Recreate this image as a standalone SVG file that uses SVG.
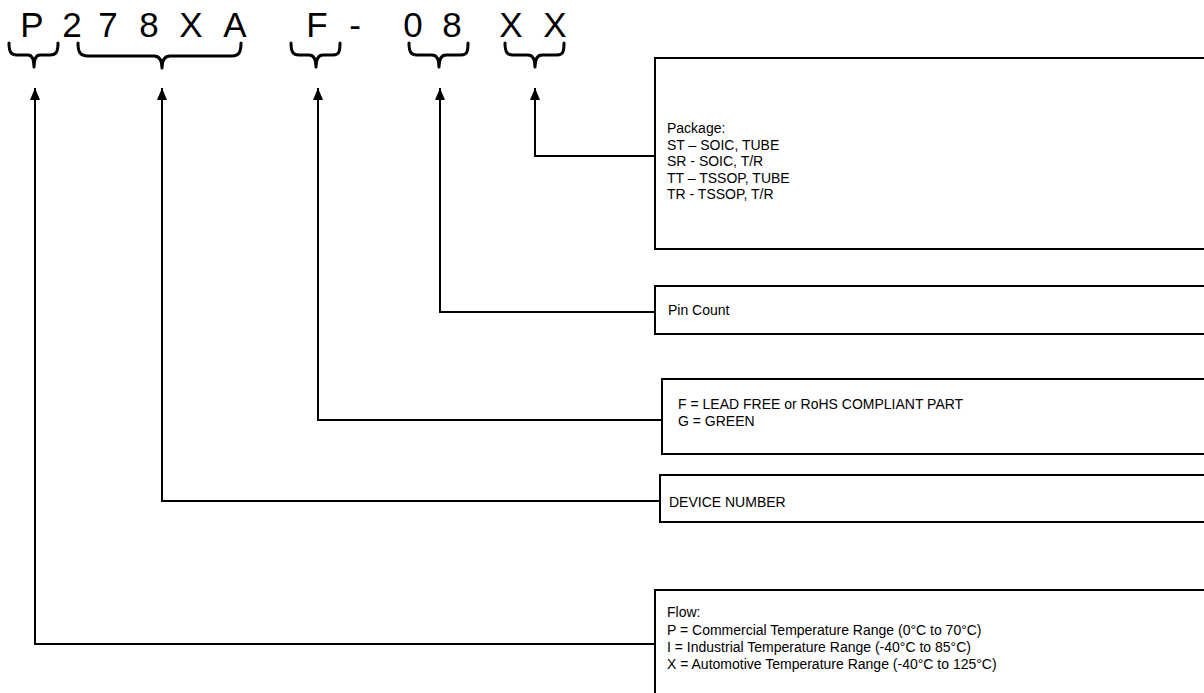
<svg xmlns="http://www.w3.org/2000/svg" width="1204" height="693" viewBox="0 0 1204 693">
<style>
.code{font-family:"Liberation Sans",Arial,sans-serif;font-size:35px;fill:#000;text-anchor:middle}
.brace{fill:none;stroke:#000;stroke-width:3;stroke-linecap:round;stroke-linejoin:round}
.box{fill:#fff;stroke:#000;stroke-width:2}
.lbl{font-family:"Liberation Sans",Arial,sans-serif;font-size:14px;fill:#000}
.conn{fill:none;stroke:#000;stroke-width:2}
</style>
<defs>
<marker id="arr" markerUnits="userSpaceOnUse" markerWidth="12" markerHeight="10" refX="12" refY="5" orient="auto">
<path d="M0,0 L12,5 L0,10 z" fill="#000"/>
</marker>
</defs>
<rect width="1204" height="693" fill="#fff"/>
<g id="partcode">
<text class="code" x="32" y="37">P</text>
<text class="code" x="72" y="37">2</text>
<text class="code" x="108" y="37">7</text>
<text class="code" x="149" y="37">8</text>
<text class="code" x="191" y="37">X</text>
<text class="code" x="235" y="37">A</text>
<text class="code" x="317" y="37">F</text>
<text class="code" x="355" y="37">-</text>
<text class="code" x="413" y="37">0</text>
<text class="code" x="452" y="37">8</text>
<text class="code" x="511" y="37">X</text>
<text class="code" x="555" y="37">X</text>
</g>
<g id="braces">
<path class="brace" d="M9,43 C9,52 11,55 17,55 H28 C32,55 34,58 34,67 C34,58 36,55 40,55 H50 C56,55 58,52 58,43"/>
<path class="brace" d="M78,43 C78,52 80,56 88,56 H154 C159,56 162,59 162,68 C162,59 165,56 170,56 H232 C239,56 241,52 241,43"/>
<path class="brace" d="M291,43 C291,52 293,55 299,55 H309 C313,55 316,58 316,67 C316,58 319,55 323,55 H333 C339,55 340,52 340,43"/>
<path class="brace" d="M409,43 C409,52 411,55 417,55 H432 C436,55 439,58 439,67 C439,58 442,55 446,55 H461 C467,55 468,52 468,43"/>
<path class="brace" d="M505,43 C505,52 507,55 513,55 H528 C532,55 535,58 535,67 C535,58 538,55 542,55 H557 C563,55 564,52 564,43"/>
</g>
<g id="connectors">
<path class="conn" d="M655,156 H535 V88" marker-end="url(#arr)"/>
<path class="conn" d="M655,312 H440 V88" marker-end="url(#arr)"/>
<path class="conn" d="M662,420 H318 V88" marker-end="url(#arr)"/>
<path class="conn" d="M660,501 H162 V88" marker-end="url(#arr)"/>
<path class="conn" d="M655,644 H35 V88" marker-end="url(#arr)"/>
</g>
<g id="package">
<rect class="box" x="655" y="58" width="560" height="191"/>
<text class="lbl" x="667" y="133">Package:</text>
<text class="lbl" x="667" y="149.5">ST – SOIC, TUBE</text>
<text class="lbl" x="667" y="166">SR - SOIC, T/R</text>
<text class="lbl" x="667" y="182.5">TT – TSSOP, TUBE</text>
<text class="lbl" x="667" y="199">TR - TSSOP, T/R</text>
</g>
<g id="pincount">
<rect class="box" x="655" y="286" width="560" height="48"/>
<text class="lbl" x="668" y="315">Pin Count</text>
</g>
<g id="leadfree">
<rect class="box" x="662" y="379" width="560" height="75"/>
<text class="lbl" x="678" y="409">F = LEAD FREE or RoHS COMPLIANT PART</text>
<text class="lbl" x="678" y="426">G = GREEN</text>
</g>
<g id="device">
<rect class="box" x="660" y="475" width="560" height="47"/>
<text class="lbl" x="669" y="507">DEVICE NUMBER</text>
</g>
<g id="flow">
<rect class="box" x="655" y="590" width="560" height="120"/>
<text class="lbl" x="667" y="617">Flow:</text>
<text class="lbl" x="667" y="634.5">P = Commercial Temperature Range (0°C to 70°C)</text>
<text class="lbl" x="667" y="651.5">I = Industrial Temperature Range (-40°C to 85°C)</text>
<text class="lbl" x="667" y="668.5">X = Automotive Temperature Range (-40°C to 125°C)</text>
</g>
</svg>
